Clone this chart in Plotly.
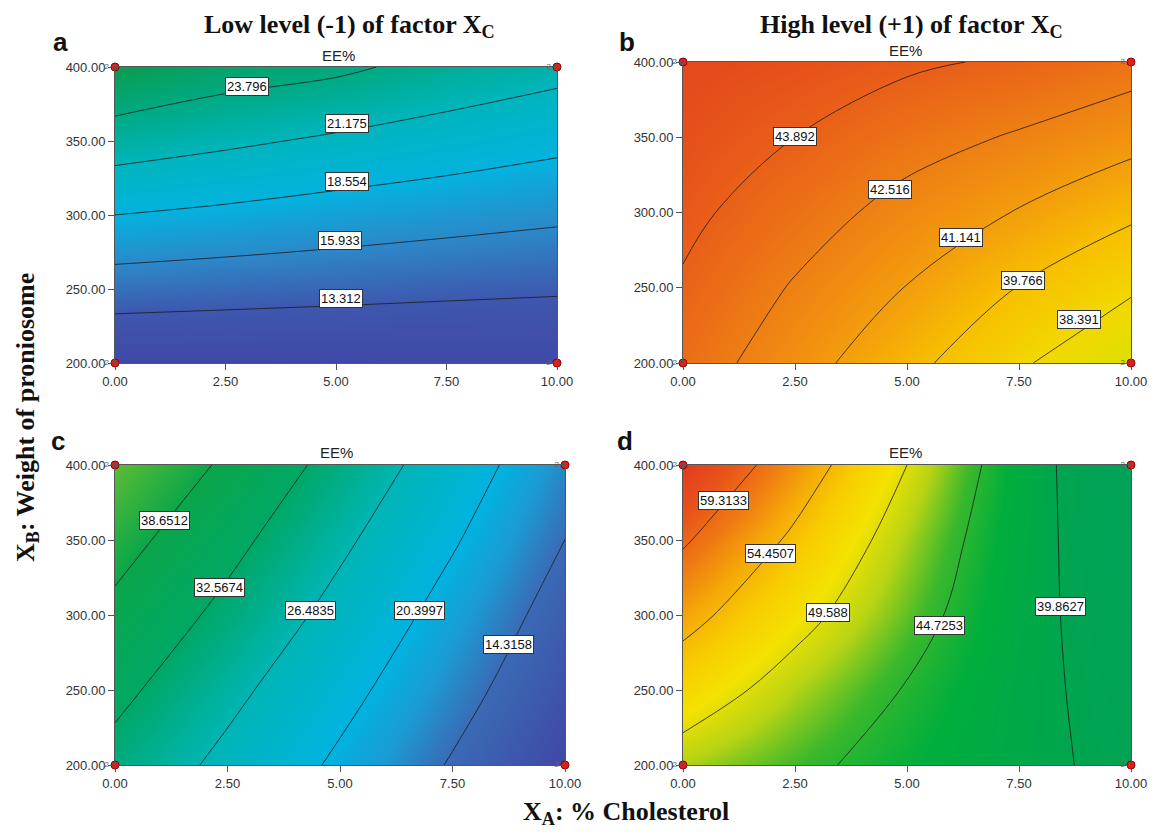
import plotly.graph_objects as go

# ---------------- data ----------------
x_chol = [0.0, 2.5, 5.0, 7.5, 10.0]          # X_A: % Cholesterol
y_weight = [200, 250, 300, 350, 400]         # X_B: Weight of proniosome

# EE% grids, rows = y_weight, cols = x_chol
ee_a = [[10.7, 10.7, 10.7, 10.75, 10.8],
        [14.63, 14.34, 14.08, 13.81, 13.59],
        [18.55, 18.03, 17.45, 16.89, 16.38],
        [22.48, 21.62, 20.78, 20.02, 19.19],
        [26.40, 25.02, 24.29, 22.93, 21.98]]
ee_b = [[43.26, 41.71, 40.15, 38.58, 37.10],
        [43.75, 42.40, 41.10, 39.72, 38.58],
        [44.20, 43.14, 42.04, 41.06, 40.00],
        [44.55, 43.89, 43.05, 42.38, 41.60],
        [44.80, 44.50, 44.10, 43.70, 43.10]]
ee_c = [[30.73, 25.1, 19.5, 13.9, 8.5],
        [34.0, 27.9, 22.0, 16.2, 10.3],
        [37.3, 31.1, 24.7, 18.4, 12.2],
        [40.8, 34.2, 27.5, 20.9, 14.3],
        [44.8, 37.65, 30.5, 23.4, 16.2]]
ee_d = [[47.84, 45.6, 43.3, 41.0, 38.7],
        [51.9, 47.9, 44.5, 41.2, 38.0],
        [55.8, 50.9, 46.25, 41.6, 36.9],
        [59.8, 53.7, 47.7, 41.9, 36.1],
        [64.1, 56.8, 49.59, 42.3, 35.0]]

# contour levels shown in each panel
levels_a = [13.312, 15.933, 18.554, 21.175, 23.796]
levels_b = [38.391, 39.766, 41.141, 42.516, 43.892]
levels_c = [14.3158, 20.3997, 26.4835, 32.5674, 38.6512]
levels_d = [39.8627, 44.7253, 49.588, 54.4507, 59.3133]

# label anchor points (x, y) for each level
labpos_a = [(5.11, 243.6), (5.08, 282.5), (5.25, 322.5), (5.25, 361.6), (2.99, 387.1)]
labpos_b = [(8.85, 229.2), (7.60, 254.7), (6.21, 283.5), (4.62, 315.1), (2.50, 350.6)]
labpos_c = [(8.74, 280.4), (6.76, 303.1), (4.34, 303.1), (2.32, 318.2), (1.11, 362.7)]
labpos_d = [(8.42, 306.0), (5.73, 293.3), (3.24, 301.6), (1.95, 341.1), (0.91, 376.4)]
label_text_a = ["13.312", "15.933", "18.554", "21.175", "23.796"]
label_text_b = ["38.391", "39.766", "41.141", "42.516", "43.892"]
label_text_c = ["14.3158", "20.3997", "26.4835", "32.5674", "38.6512"]
label_text_d = ["39.8627", "44.7253", "49.588", "54.4507", "59.3133"]

# design points (replicates = 2)
design_x = [0, 0, 10, 10]
design_y = [200, 400, 200, 400]
design_n = ["2", "2", "2", "2"]

tick_x = [0, 2.5, 5, 7.5, 10]
tick_x_text = ["0.00", "2.50", "5.00", "7.50", "10.00"]
tick_y = [200, 250, 300, 350, 400]
tick_y_text = ["200.00", "250.00", "300.00", "350.00", "400.00"]

# ---------------- colour stops (style) ----------------
stops_a = [(10.5, '#4047a6'), (13.3, '#3e57ae'), (15.9, '#2c88c8'), (18.5, '#04b2df'),
           (21.2, '#00b5bd'), (23.8, '#00aa82'), (26.5, '#0b9b4d')]
stops_b = [(37.0, '#dde000'), (38.4, '#f2d800'), (39.8, '#f7bf00'), (41.1, '#f39e0c'),
           (42.5, '#ee7f14'), (43.9, '#e95f19'), (44.9, '#e4461d')]
stops_c = [(8.5, '#4147a6'), (14.3, '#3a6ab5'), (17.5, '#1b9bd3'), (20.4, '#00b3e0'),
           (26.5, '#00b5b5'), (32.6, '#00a865'), (38.7, '#0aa64a'), (44.8, '#5cbc34')]
stops_d = [(35.0, '#00a159'), (39.5, '#00a450'), (43.0, '#00ae3c'), (45.5, '#3ab82c'),
           (48.0, '#b8d414'), (50.5, '#f4e200'), (53.0, '#f8cc00'), (55.5, '#f5a808'),
           (58.0, '#f07c12'), (61.0, '#e8531a'), (64.1, '#e23c1f')]

W, H = 1156, 837
OFF = 8  # page body margin


def fx(px):
    return (px - OFF) / W


def fy(py):
    return 1 - (py - OFF) / H


def scale(stops):
    z0, z1 = stops[0][0], stops[-1][0]
    return z0, z1, [[(z - z0) / (z1 - z0), c] for z, c in stops]


panels = [
    dict(z=ee_a, lv=levels_a, st=stops_a, lp=labpos_a, lt=label_text_a,
         dx=[fx(115), fx(557)], dy=[fy(363), fy(67)]),
    dict(z=ee_b, lv=levels_b, st=stops_b, lp=labpos_b, lt=label_text_b,
         dx=[fx(683), fx(1131)], dy=[fy(363), fy(62)]),
    dict(z=ee_c, lv=levels_c, st=stops_c, lp=labpos_c, lt=label_text_c,
         dx=[fx(115), fx(565)], dy=[fy(765), fy(465)]),
    dict(z=ee_d, lv=levels_d, st=stops_d, lp=labpos_d, lt=label_text_d,
         dx=[fx(683), fx(1131)], dy=[fy(765), fy(465)]),
]

fig = go.Figure()
annotations = []
layout_axes = {}
for i, p in enumerate(panels, start=1):
    xa = 'x' if i == 1 else f'x{i}'
    ya = 'y' if i == 1 else f'y{i}'
    zmin, zmax, cs = scale(p['st'])
    lv = p['lv']
    step = (lv[-1] - lv[0]) / (len(lv) - 1)
    fig.add_trace(go.Contour(
        x=x_chol, y=y_weight, z=p['z'], xaxis=xa, yaxis=ya,
        colorscale=cs, zmin=zmin, zmax=zmax, showscale=False,
        contours=dict(coloring='heatmap', start=lv[0], end=lv[-1] + step * 0.01,
                      size=step, showlines=True),
        line=dict(color='#1a1a1a', width=0.8, smoothing=1.0),
        hoverinfo='skip'))
    fig.add_trace(go.Scatter(
        x=design_x, y=design_y, xaxis=xa, yaxis=ya, mode='markers+text',
        text=design_n, textposition='middle left',
        textfont=dict(size=8, color='#666', family='Arial'),
        marker=dict(symbol='circle', size=8, color='#e0201b',
                    line=dict(color='#8b0000', width=1)),
        cliponaxis=False, showlegend=False, hoverinfo='skip'))
    for (lx, ly), t in zip(p['lp'], p['lt']):
        annotations.append(dict(x=lx, y=ly, xref=xa, yref=ya, text=t, showarrow=False,
                                bgcolor='white', bordercolor='#333', borderwidth=1, borderpad=1,
                                font=dict(family='Arial', size=13, color='#111')))
    axn = 'xaxis' if i == 1 else f'xaxis{i}'
    ayn = 'yaxis' if i == 1 else f'yaxis{i}'
    layout_axes[axn] = dict(domain=p['dx'], anchor=ya, range=[0, 10], tickvals=tick_x,
                            ticktext=tick_x_text, ticks='outside', ticklen=6, tickcolor='#555',
                            showline=True, mirror=True, linecolor='#555', linewidth=1,
                            showgrid=False, zeroline=False, automargin=False,
                            tickfont=dict(family='Arial', size=13, color='#333'))
    layout_axes[ayn] = dict(domain=p['dy'], anchor=xa, range=[200, 400], tickvals=tick_y,
                            ticktext=tick_y_text, ticks='outside', ticklen=6, tickcolor='#555',
                            showline=True, mirror=True, linecolor='#555', linewidth=1,
                            showgrid=False, zeroline=False, automargin=False,
                            tickfont=dict(family='Arial', size=13, color='#333'))


def ptext(text, px, py, size, family, bold=False, angle=0, color='#111'):
    annotations.append(dict(text=(f"<b>{text}</b>" if bold else text), x=fx(px), y=fy(py),
                            xref='paper', yref='paper', showarrow=False, textangle=angle,
                            font=dict(family=family, size=size, color=color),
                            xanchor='center', yanchor='middle'))


serif = 'Liberation Serif, Times New Roman'
sans = 'Liberation Sans, Arial'
ptext("Low level (-1) of factor X<sub>C</sub>", 349, 26, 26, serif, bold=True)
ptext("High level (+1) of factor X<sub>C</sub>", 911, 26, 26, serif, bold=True)
ptext("a", 60, 42, 26, sans, bold=True)
ptext("b", 627, 42, 26, sans, bold=True)
ptext("c", 58, 441, 26, sans, bold=True)
ptext("d", 625, 441, 26, sans, bold=True)
ptext("EE%", 338, 55, 15, sans, color='#222')
ptext("EE%", 905, 50, 15, sans, color='#222')
ptext("EE%", 337, 453, 15, sans, color='#222')
ptext("EE%", 905, 453, 15, sans, color='#222')
ptext("X<sub>B</sub>: Weight of proniosome", 27, 418, 26, serif, bold=True, angle=-90)
ptext("X<sub>A</sub>: % Cholesterol", 626, 813, 26, serif, bold=True)

fig.update_layout(width=W, height=H,
                  margin=dict(l=0, r=0, t=0, b=0, pad=0, autoexpand=False),
                  paper_bgcolor='white', plot_bgcolor='white', showlegend=False,
                  annotations=annotations, **layout_axes)

fig.write_html("out.html")
